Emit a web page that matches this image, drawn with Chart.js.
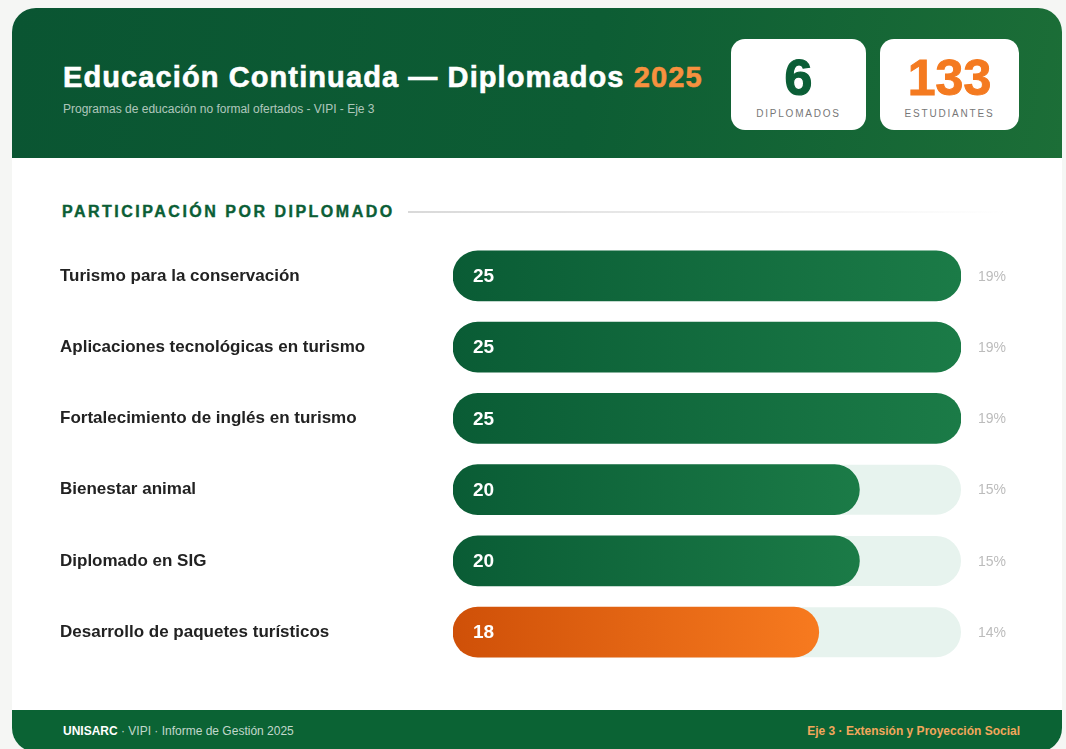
<!DOCTYPE html>
<html lang="es">
<head>
<meta charset="utf-8">
<title>Educación Continuada — Diplomados 2025</title>
<script src="https://cdn.jsdelivr.net/npm/chart.js@4.4.1/dist/chart.umd.min.js"></script>
<style>
  html, body { margin: 0; padding: 0; }
  body {
    width: 1066px; height: 749px; overflow: hidden; position: relative;
    background: #f5f6f4;
    font-family: "Liberation Sans", Arial, sans-serif;
  }
  .card {
    position: absolute; left: 12px; top: 8px; width: 1050px; height: 744px;
    background: #fff; border-radius: 24px; overflow: hidden;
  }
  .header {
    position: absolute; left: 0; top: 0; width: 100%; height: 150px;
    background: linear-gradient(100deg, #0a5532 0%, #0d5d34 55%, #1c6e37 100%);
  }
  .title {
    position: absolute; left: 51px; top: 53px; margin: 0;
    color: #fff; font-size: 29px; font-weight: 700; letter-spacing: 1.1px;
    -webkit-text-stroke: 0.6px #fff; white-space: nowrap;
  }
  .title span { color: #f7913f; -webkit-text-stroke: 0.6px #f7913f; }
  .subtitle {
    position: absolute; left: 51px; top: 94px;
    color: rgba(255,255,255,0.68); font-size: 12px; white-space: nowrap;
  }
  .stat {
    position: absolute; top: 31px; height: 91px; background: #fff;
    border-radius: 14px; text-align: center;
  }
  .stat .num { position: absolute; left: 0; right: 0; top: 12px; font-size: 50px; font-weight: 700; line-height: 54px; }
  .stat .lbl { position: absolute; left: 0; right: 0; top: 69px; font-size: 10px; letter-spacing: 1.8px; color: #777; }
  .section {
    position: absolute; left: 50px; top: 195px; margin: 0;
    color: #0b5e36; font-size: 16px; font-weight: 700; letter-spacing: 2.5px;
    -webkit-text-stroke: 0.4px #0b5e36; white-space: nowrap;
  }
  .rule {
    position: absolute; left: 396px; top: 203px; width: 600px; height: 2px;
    background: linear-gradient(90deg, #d9d9d9, rgba(230,230,230,0));
  }
  .chart-box { position: absolute; left: 48px; top: 219px; width: 981px; height: 454px; }
  .footer {
    position: absolute; left: 0; bottom: 0; width: 100%; height: 42px;
    background: #0b6334; font-size: 12px; line-height: 42px;
  }
  .footer .l { position: absolute; left: 51px; color: rgba(255,255,255,0.75); }
  .footer .l b { color: #fff; }
  .footer .r { position: absolute; right: 42px; color: #f2a75c; font-weight: 700; }
</style>
</head>
<body>
<div class="card">
  <div class="header">
    <h1 class="title">Educación Continuada — Diplomados <span>2025</span></h1>
    <div class="subtitle">Programas de educación no formal ofertados - VIPI - Eje 3</div>
    <div class="stat" style="left:719px;width:135px;">
      <div class="num" style="color:#0b5e36;-webkit-text-stroke:1.2px #0b5e36;" id="statCount"></div>
      <div class="lbl">DIPLOMADOS</div>
    </div>
    <div class="stat" style="left:868px;width:139px;">
      <div class="num" style="color:#f47a20;-webkit-text-stroke:1px #f47a20;" id="statTotal"></div>
      <div class="lbl">ESTUDIANTES</div>
    </div>
  </div>
  <h2 class="section">PARTICIPACIÓN POR DIPLOMADO</h2>
  <div class="rule"></div>
  <div class="chart-box"><canvas id="diplomadosChart"></canvas></div>
  <div class="footer">
    <span class="l"><b>UNISARC</b> · VIPI · Informe de Gestión 2025</span>
    <span class="r">Eje 3 · Extensión y Proyección Social</span>
  </div>
</div>

<script>
// Diplomados and number of students enrolled
const diplomados = [
    'Turismo para la conservación',
    'Aplicaciones tecnológicas en turismo',
    'Fortalecimiento de inglés en turismo',
    'Bienestar animal',
    'Diplomado en SIG',
    'Desarrollo de paquetes turísticos'
];
const estudiantes = [25, 25, 25, 20, 20, 18];
const axisMax = 25;

const totalEstudiantes = estudiantes.reduce((a, b) => a + b, 0);
document.getElementById('statCount').textContent = diplomados.length;
document.getElementById('statTotal').textContent = totalEstudiantes;

// Gradient per bar, from the bar's start to its end
function barGradient(context) {
    const chart = context.chart;
    const isLast = context.dataIndex === estudiantes.length - 1;
    const from = isLast ? '#cf5008' : '#0a5c35';
    const to = isLast ? '#f77a1f' : '#1b7b47';
    if (!chart.chartArea || !chart.scales.x) return from;
    const x = chart.scales.x;
    const x0 = x.getPixelForValue(0);
    const x1 = x.getPixelForValue(context.raw);
    const g = chart.ctx.createLinearGradient(x0, 0, x1, 0);
    g.addColorStop(0, from);
    g.addColorStop(1, to);
    return g;
}

// Light track behind every bar
const trackPlugin = {
    id: 'track',
    beforeDatasetsDraw(chart) {
        const ctx = chart.ctx;
        const area = chart.chartArea;
        const meta = chart.getDatasetMeta(0);
        ctx.save();
        ctx.fillStyle = '#e7f3ee';
        meta.data.forEach(bar => {
            const h = bar.height;
            ctx.beginPath();
            ctx.roundRect(area.left, bar.y - h / 2, area.right - area.left, h, h / 2);
            ctx.fill();
        });
        ctx.restore();
    }
};

// Value inside the bar and share on the right
const labelPlugin = {
    id: 'barLabels',
    afterDatasetsDraw(chart) {
        const ctx = chart.ctx;
        const area = chart.chartArea;
        const meta = chart.getDatasetMeta(0);
        ctx.save();
        ctx.textBaseline = 'middle';
        meta.data.forEach((bar, i) => {
            ctx.fillStyle = '#fff';
            ctx.font = 'bold 19px "Liberation Sans", Arial, sans-serif';
            ctx.textAlign = 'left';
            ctx.fillText(estudiantes[i], area.left + 20, bar.y + 1);
            ctx.fillStyle = '#bcbcbc';
            ctx.font = '14px "Liberation Sans", Arial, sans-serif';
            ctx.fillText(Math.round(estudiantes[i] / totalEstudiantes * 100) + '%', area.right + 17, bar.y + 1);
        });
        ctx.restore();
    }
};

const ctx = document.getElementById('diplomadosChart').getContext('2d');
new Chart(ctx, {
    type: 'bar',
    data: {
        labels: diplomados,
        datasets: [{
            data: estudiantes,
            backgroundColor: barGradient,
            borderRadius: 25,
            borderSkipped: false,
            barThickness: 50
        }]
    },
    options: {
        indexAxis: 'y',
        responsive: true,
        maintainAspectRatio: false,
        animation: false,
        layout: { padding: { left: 0, right: 80, top: 0, bottom: 0 } },
        plugins: {
            legend: { display: false },
            tooltip: { enabled: false }
        },
        scales: {
            x: { display: false, min: 0, max: axisMax },
            y: {
                grid: { display: false },
                border: { display: false },
                afterFit(scale) { scale.width = 393; },
                ticks: {
                    crossAlign: 'far',
                    color: '#222',
                    font: { family: '"Liberation Sans", Arial, sans-serif', size: 17, weight: '600' }
                }
            }
        }
    },
    plugins: [trackPlugin, labelPlugin]
});
</script>
</body>
</html>
